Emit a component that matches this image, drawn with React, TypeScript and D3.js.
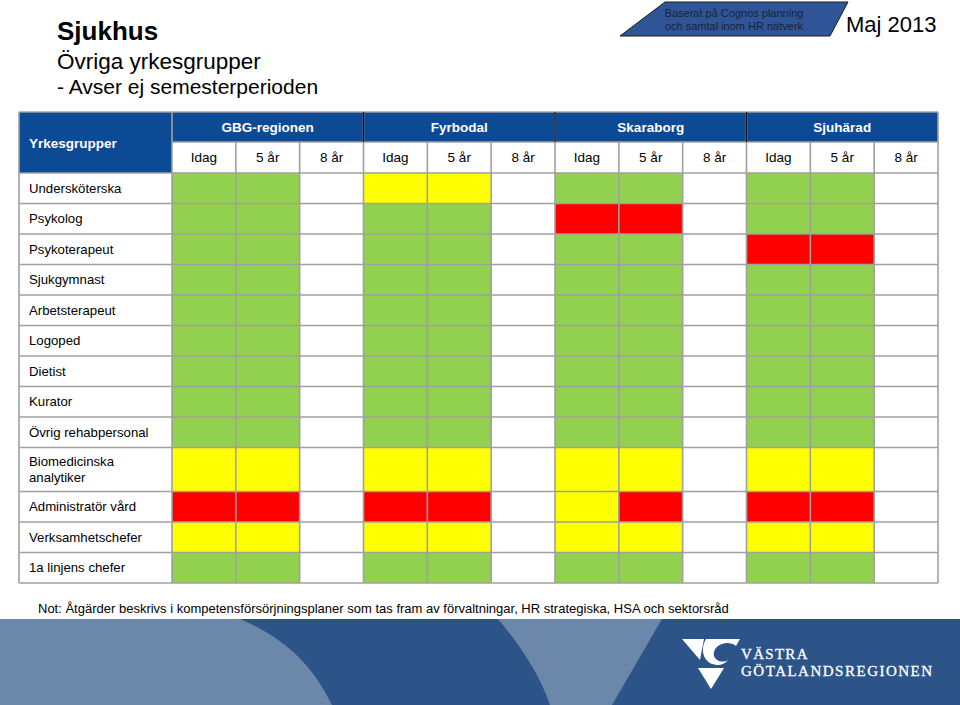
import React from "react";
import * as d3 from "d3";

const regions = ["GBG-regionen", "Fyrbodal", "Skaraborg", "Sjuhärad"];
const periods = ["Idag", "5 år", "8 år"];
const occupations = [
  "Undersköterska",
  "Psykolog",
  "Psykoterapeut",
  "Sjukgymnast",
  "Arbetsterapeut",
  "Logoped",
  "Dietist",
  "Kurator",
  "Övrig rehabpersonal",
  "Biomedicinska\nanalytiker",
  "Administratör vård",
  "Verksamhetschefer",
  "1a linjens chefer",
];
// status codes per occupation: 12 cells (4 regions x 3 periods). G = green, Y = yellow, R = red, W = empty
const status = [
  "GGW YYW GGW GGW",
  "GGW GGW RRW GGW",
  "GGW GGW GGW RRW",
  "GGW GGW GGW GGW",
  "GGW GGW GGW GGW",
  "GGW GGW GGW GGW",
  "GGW GGW GGW GGW",
  "GGW GGW GGW GGW",
  "GGW GGW GGW GGW",
  "YYW YYW YYW YYW",
  "RRW RRW YRW RRW",
  "YYW YYW YYW YYW",
  "GGW GGW GGW GGW",
];
const rowUnits = [1, 1, 1, 1, 1, 1, 1, 1, 1, 1.44, 1, 1, 1];

const colorOf: Record<string, string> = {
  G: "#92D050",
  Y: "#FFFF00",
  R: "#FF0000",
  W: "#FFFFFF",
};

const FONT = "'Liberation Sans', Arial, Helvetica, sans-serif";
const SERIF = "'Liberation Serif', 'DejaVu Serif', serif";

export default function App() {
  const W = 960;
  const H = 705;
  const left = 19;
  const labelRight = 172;
  const right = 938;
  const headTop = 112;
  const head1 = 142;
  const head2 = 173;
  const bottom = 583;

  const cols = d3.range(regions.length * periods.length);
  const x = d3.scaleBand<number>().domain(cols).range([labelRight, right]).padding(0);
  const cum = [0, ...d3.cumsum(rowUnits)];
  const y = d3.scaleLinear().domain([0, cum[cum.length - 1]]).range([head2, bottom]);

  const grid = "#A0A0A0";
  const headBlue = "#0C4A96";

  const cells: { r: number; c: number; code: string }[] = [];
  status.forEach((s, r) => {
    const codes = s.replace(/ /g, "").split("");
    codes.forEach((code, c) => cells.push({ r, c, code }));
  });

  // footer shapes
  const fTop = 619;
  const darkPath1 = d3.path();
  darkPath1.moveTo(240, fTop);
  darkPath1.lineTo(498, fTop);
  darkPath1.bezierCurveTo(520, 645, 540, 675, 550, H);
  darkPath1.lineTo(332, H);
  darkPath1.bezierCurveTo(315, 670, 290, 640, 240, fTop);
  darkPath1.closePath();

  const darkPath2 = d3.path();
  darkPath2.moveTo(662, fTop);
  darkPath2.lineTo(W, fTop);
  darkPath2.lineTo(W, H);
  darkPath2.lineTo(612, H);
  darkPath2.closePath();

  return (
    <svg
      width={W}
      height={H}
      style={{ position: "absolute", left: 0, top: 0, background: "#fff" }}
      fontFamily={FONT}
    >
      <rect x={0} y={0} width={W} height={H} fill="#fff" />
      {/* Titles */}
      <text x={57} y={40} fontSize={26} fontWeight="bold" fill="#000">Sjukhus</text>
      <text x={57} y={69} fontSize={22.5} fill="#000">Övriga yrkesgrupper</text>
      <text x={57} y={94} fontSize={21} fill="#000">- Avser ej semesterperioden</text>

      {/* Banner */}
      <polygon points="665,2 848,2 830,36 620,36" fill="#2F5597" stroke="#1a1a1a" strokeWidth={1} />
      <text x={734} y={17} fontSize={11} textAnchor="middle" fill="#1a2238">Baserat på Cognos planning</text>
      <text x={734} y={30} fontSize={11} textAnchor="middle" fill="#1a2238">och samtal inom HR nätverk</text>
      <text x={846} y={32} fontSize={22} fill="#000">Maj 2013</text>

      {/* Header blue */}
      <rect x={left} y={headTop} width={right - left} height={head1 - headTop} fill={headBlue} />
      <rect x={left} y={head1} width={labelRight - left} height={head2 - head1} fill={headBlue} />
      <rect x={labelRight} y={head1} width={right - labelRight} height={head2 - head1} fill="#fff" />
      <text x={29} y={148} fontSize={13.5} fontWeight="bold" fill="#fff">Yrkesgrupper</text>
      {regions.map((r, i) => {
        const x0 = x(i * 3)!;
        const x1 = x(i * 3 + 2)! + x.bandwidth();
        return (
          <g key={r}>
            <text x={(x0 + x1) / 2} y={132} fontSize={13.5} fontWeight="bold" fill="#fff" textAnchor="middle">{r}</text>
            {periods.map((p, j) => (
              <text key={p} x={x(i * 3 + j)! + x.bandwidth() / 2} y={162} fontSize={13.5} fill="#000" textAnchor="middle">{p}</text>
            ))}
          </g>
        );
      })}

      {/* Cells */}
      {cells.map((d) => (
        <rect
          key={`${d.r}-${d.c}`}
          x={x(d.c)!}
          y={y(cum[d.r])}
          width={x.bandwidth()}
          height={y(cum[d.r + 1]) - y(cum[d.r])}
          fill={colorOf[d.code]}
        />
      ))}

      {/* Row labels */}
      {occupations.map((o, r) => {
        const lines = o.split("\n");
        const yc = (y(cum[r]) + y(cum[r + 1])) / 2;
        return (
          <text key={o} x={29} fontSize={13.2} fill="#000">
            {lines.map((l, k) => (
              <tspan key={k} x={29} y={yc + 4.5 + (k - (lines.length - 1) / 2) * 16}>{l}</tspan>
            ))}
          </text>
        );
      })}

      {/* Grid lines */}
      <g stroke={grid} strokeWidth={1.6} fill="none">
        {cum.map((c, i) => (
          <line key={`h${i}`} x1={left} x2={right} y1={y(c)} y2={y(c)} />
        ))}
        <line x1={labelRight} x2={right} y1={head1} y2={head1} />
        {cols.map((c) => (
          <line key={`v${c}`} x1={x(c)!} x2={x(c)!} y1={c % 3 === 0 ? headTop : head1} y2={bottom} />
        ))}
        <line x1={left} x2={left} y1={headTop} y2={bottom} />
        <line x1={right} x2={right} y1={headTop} y2={bottom} />
        <line x1={left} x2={right} y1={headTop} y2={headTop} />
      </g>
      <g stroke="#0a0a0a" strokeWidth={1.2}>
        {[3, 6, 9].map((c) => (
          <line key={`b${c}`} x1={x(c)!} x2={x(c)!} y1={headTop} y2={head1} />
        ))}
      </g>

      {/* Note */}
      <text x={38} y={613} fontSize={13} fill="#000">
        Not: Åtgärder beskrivs i kompetensförsörjningsplaner som tas fram av förvaltningar, HR strategiska, HSA och sektorsråd
      </text>

      {/* Footer */}
      <rect x={0} y={fTop} width={W} height={H - fTop} fill="#6B88AA" />
      <path d={darkPath1.toString()} fill="#2C5488" />
      <path d={darkPath2.toString()} fill="#2C5488" />

      {/* Logo */}
      <g fill="#fff">
        <polygon points="682,639 704,639 700,660" />
        <path d="M706,639 L740,639 L736,646 C728,640 716,644 714,652 C712,660 722,664 728,660 C722,668 708,666 704,656 C702,650 703,644 706,639 Z" />
        <polygon points="698,668 724,668 711,689" />
      </g>
      <text x={741} y={659} fontSize={15} fill="#fff" fontFamily={SERIF} letterSpacing={1.3} stroke="#fff" strokeWidth={0.3}>VÄSTRA</text>
      <text x={741} y={676} fontSize={15} fill="#fff" fontFamily={SERIF} letterSpacing={1.5} stroke="#fff" strokeWidth={0.3}>GÖTALANDSREGIONEN</text>
    </svg>
  );
}
